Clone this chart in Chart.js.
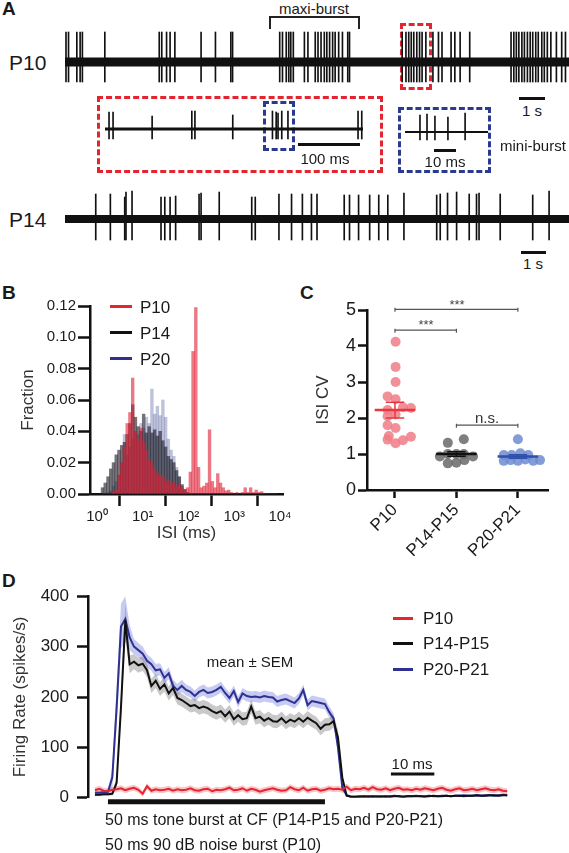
<!DOCTYPE html>
<html>
<head>
<meta charset="utf-8">
<script src="https://cdn.jsdelivr.net/npm/chart.js@4.4.0/dist/chart.umd.min.js"></script>
<style>
  body { margin: 0; background: #fff; }
  #fig { position: relative; width: 569px; height: 853px; overflow: hidden;
         font-family: "Liberation Sans", Arial, Helvetica, sans-serif; color: #1a1a1a; }
  #fig canvas { position: absolute; }
  .t { position: absolute; white-space: nowrap; line-height: 1; }
  .c { transform: translate(-50%, -50%); }
  .l { transform: translateY(-50%); }
  .panel { font-weight: bold; font-size: 19px; }
  .box { position: absolute; box-sizing: border-box; }
  .bar { position: absolute; }
</style>
</head>
<body>
<div id="fig">
  <!-- panel A -->
  <div class="t l panel" style="left:2px;top:8px">A</div>
  <div class="t c" style="left:314px;top:8px;font-size:15px">maxi-burst</div>
  <div class="box" style="left:269px;top:16px;width:91px;height:13px;border:2px solid #222;border-bottom:0"></div>
  <div class="box" style="left:400px;top:23px;width:32px;height:67px;border:3px dashed #e32530"></div>
  <div class="t l" style="left:9px;top:62px;font-size:21px">P10</div>
  <canvas id="p10Trace" width="504" height="70" style="left:65px;top:22px"></canvas>
  <div class="bar" style="left:519px;top:97px;width:26px;height:3px;background:#111"></div>
  <div class="t c" style="left:532px;top:110px;font-size:15px">1 s</div>

  <div class="box" style="left:97px;top:96px;width:286px;height:77px;border:3px dashed #e32530"></div>
  <div class="box" style="left:263px;top:101px;width:32px;height:50px;border:3px dashed #2b3990"></div>
  <canvas id="insetTrace" width="258" height="40" style="left:105px;top:104px"></canvas>
  <div class="bar" style="left:298px;top:143px;width:62px;height:3px;background:#111"></div>
  <div class="t c" style="left:325px;top:158px;font-size:15px">100 ms</div>

  <div class="box" style="left:398px;top:107px;width:93px;height:66px;border:3px dashed #2b3990"></div>
  <canvas id="miniTrace" width="83" height="40" style="left:405px;top:107px"></canvas>
  <div class="bar" style="left:434px;top:149px;width:22px;height:3px;background:#111"></div>
  <div class="t c" style="left:445px;top:161px;font-size:15px">10 ms</div>
  <div class="t l" style="left:500px;top:145px;font-size:15px">mini-burst</div>

  <div class="t l" style="left:9px;top:219px;font-size:21px">P14</div>
  <canvas id="p14Trace" width="504" height="70" style="left:65px;top:179px"></canvas>
  <div class="bar" style="left:521px;top:251px;width:25px;height:3px;background:#111"></div>
  <div class="t c" style="left:533px;top:263px;font-size:15px">1 s</div>

  <!-- panel B -->
  <div class="t l panel" style="left:2px;top:292px">B</div>
  <canvas id="isiHist" width="300" height="262" style="left:0;top:290px"></canvas>
  <div class="bar" style="left:110px;top:305px;width:22px;height:3px;background:#e4262f"></div>
  <div class="bar" style="left:110px;top:331px;width:22px;height:3px;background:#111"></div>
  <div class="bar" style="left:110px;top:357px;width:22px;height:3px;background:#2e3192"></div>
  <div class="t l" style="left:140px;top:307px;font-size:17px">P10</div>
  <div class="t l" style="left:140px;top:333px;font-size:17px">P14</div>
  <div class="t l" style="left:140px;top:359px;font-size:17px">P20</div>

  <!-- panel C -->
  <div class="t l panel" style="left:300px;top:292px">C</div>
  <canvas id="cvChart" width="279" height="270" style="left:290px;top:290px"></canvas>
  <div class="t c" style="left:457px;top:304px;font-size:13px;color:#444">***</div>
  <div class="t c" style="left:426px;top:324px;font-size:13px;color:#444">***</div>
  <div class="t c" style="left:487px;top:417px;font-size:15px;color:#333">n.s.</div>

  <!-- panel D -->
  <div class="t l panel" style="left:2px;top:580px">D</div>
  <canvas id="rateChart" width="569" height="238" style="left:0;top:578px"></canvas>
  <div class="bar" style="left:393px;top:617px;width:20px;height:3px;background:#e4262f"></div>
  <div class="bar" style="left:393px;top:642px;width:20px;height:3px;background:#111"></div>
  <div class="bar" style="left:393px;top:668px;width:20px;height:3px;background:#2e3192"></div>
  <div class="t l" style="left:423px;top:618px;font-size:17px">P10</div>
  <div class="t l" style="left:423px;top:643px;font-size:17px">P14-P15</div>
  <div class="t l" style="left:423px;top:669px;font-size:17px">P20-P21</div>
  <div class="t c" style="left:250px;top:661px;font-size:15px">mean ± SEM</div>
  <div class="t c" style="left:412px;top:763px;font-size:15px">10 ms</div>
  <div class="t l" style="left:105px;top:820px;font-size:16px">50 ms tone burst at CF (P14-P15 and P20-P21)</div>
  <div class="t l" style="left:105px;top:845px;font-size:16px">50 ms 90 dB noise burst (P10)</div>
</div>

<script>
// ---- A: spike trains (s / ms) ----
const p10SpikeTimes = [0.04, 0.14, 0.47, 0.60, 0.69, 1.58, 3.74, 3.84, 4.03, 4.17, 4.36, 5.40, 5.97,
  6.58, 6.65, 8.52, 8.63, 8.78, 8.88, 8.96, 9.06, 9.50, 9.64, 9.93, 10.04, 10.16, 10.29, 10.39,
  10.50, 10.62, 10.72, 10.86, 11.01, 11.22, 11.29, 13.38, 13.53, 13.64, 13.74, 13.84, 13.96,
  14.07, 14.17, 14.32, 14.60, 14.82, 14.96, 15.32, 15.47, 15.68, 16.06, 17.70, 17.81, 17.91,
  18.01, 18.13, 18.23, 18.35, 18.46, 18.56, 18.68, 18.78, 18.92, 19.02, 19.14, 19.28, 19.50,
  19.71, 19.86];
const p14SpikeTimes = [1.22, 1.80, 2.37, 2.42, 2.66, 3.81, 3.96, 4.17, 4.39, 5.32, 5.40, 6.12,
  7.41, 7.55, 8.49, 8.99, 9.42, 9.78, 10.0, 11.08, 11.29, 11.65, 12.09, 12.45, 12.81, 13.45,
  14.75, 14.89, 15.18, 15.54, 16.04, 16.33, 16.43, 17.27, 18.56, 19.21];
const p14SpikeUp = [25, 25, 22, 27, 28, 22, 22, 22, 23, 25, 26, 27,
  22, 22, 25, 25, 25, 25, 25, 24, 24, 24, 24, 24, 24, 26,
  24, 25, 26, 27, 25, 25, 26, 25, 24, 28];
const insetSpikeTimes = [6.5, 13, 76, 140, 145, 206, 270, 276, 279, 285, 295, 408, 414];
const insetSpikeUp = [17, 17, 13, 18, 18, 14, 18, 17, 16, 18, 18, 18, 18];
const miniSpikeTimes = [6.8, 10, 13.6, 19.5, 27.3];
const miniSpikeUp = [17, 18, 16, 15, 19];

// ---- B: ISI histogram, bins in log10(ms) ----
const isiBins = [0.12, 0.18, 0.24, 0.30, 0.36, 0.42, 0.48, 0.54, 0.60, 0.66, 0.72, 0.78, 0.84,
  0.90, 0.96, 1.02, 1.08, 1.14, 1.20, 1.26, 1.32, 1.38, 1.44, 1.50, 1.56, 1.62, 1.68, 1.74, 1.80,
  1.86, 1.92, 1.98, 2.04, 2.10, 2.16, 2.22, 2.28, 2.34, 2.40, 2.46, 2.52, 2.58, 2.64, 2.70, 2.76,
  2.82, 2.88, 2.94, 3.00, 3.06, 3.12, 3.18, 3.24, 3.30, 3.36, 3.42, 3.48, 3.54, 3.60, 3.66, 3.72,
  3.78, 3.84, 3.90];
const p10Frac = [0, 0, 0, 0, 0.001, 0.003, 0.012, 0.02,
  0.03, 0.045, 0.052, 0.074, 0.04, 0.035, 0.042, 0.033,
  0.028, 0.022, 0.02, 0.016, 0.013, 0.011, 0.012, 0.008,
  0.009, 0.006, 0.008, 0.005, 0.006, 0.004, 0.003, 0.004,
  0.014, 0.091, 0.119, 0.017, 0.004, 0.005, 0.007, 0.041,
  0.008, 0.004, 0.013, 0.007, 0.004, 0.002, 0.0025, 0.001,
  0, 0.001, 0, 0.001, 0.004, 0.001, 0.004, 0.001,
  0.0025, 0.001, 0.0015, 0.0005, 0, 0, 0, 0];
const p14Frac = [0.004, 0.007, 0.011, 0.016, 0.02, 0.025, 0.028, 0.031,
  0.033, 0.038, 0.045, 0.057, 0.049, 0.043, 0.04, 0.051,
  0.039, 0.043, 0.039, 0.041, 0.037, 0.04, 0.034, 0.03,
  0.024, 0.022, 0.02, 0.015, 0.011, 0.006, 0.003, 0.001,
  0, 0, 0, 0, 0, 0, 0, 0, 0, 0, 0, 0, 0, 0, 0, 0,
  0, 0, 0, 0, 0, 0, 0, 0, 0, 0, 0, 0, 0, 0, 0, 0];
const p20Frac = [0, 0, 0.001, 0.002, 0.005, 0.008, 0.012, 0.02,
  0.038, 0.025, 0.03, 0.035, 0.04, 0.038, 0.045, 0.042,
  0.049, 0.045, 0.067, 0.051, 0.056, 0.05, 0.06, 0.049,
  0.035, 0.028, 0.024, 0.017, 0.011, 0.005, 0.002, 0,
  0, 0, 0, 0, 0, 0, 0, 0, 0, 0, 0, 0, 0, 0, 0, 0,
  0, 0, 0, 0, 0, 0, 0, 0, 0, 0, 0, 0, 0, 0, 0, 0];
const isiTickExp = [0, 1, 2, 3, 4];
const isiTickLabels = ['10⁰', '10¹', '10²', '10³', '10⁴'];

// ---- C: ISI CV per cell ----
const cvGroups = ['P10', 'P14-P15', 'P20-P21'];
const p10Cv = [4.12, 3.42, 3.0, 2.6, 2.52, 2.3, 2.28, 2.22, 2.1, 2.05, 1.8, 1.72, 1.5, 1.48, 1.4, 1.38, 1.3];
const p10Jitter = [0.01, 0.01, 0.01, -0.12, 0.01, 0.13, 0.26, -0.12, 0.01, -0.12, -0.12, 0.01, -0.1, 0.26, -0.12, 0.13, 0.01];
const p14Cv = [1.41, 1.31, 1.0, 1.0, 1.0, 0.93, 0.93, 0.83, 0.76, 0.74];
const p14Jitter = [0.12, -0.14, -0.14, 0, 0.12, -0.27, 0.27, 0.13, 0, -0.14];
const p20Cv = [1.41, 0.97, 0.97, 1.02, 0.97, 0.81, 0.83, 0.81, 0.85, 0.81, 0.83];
const p20Jitter = [0, -0.23, -0.1, 0.04, 0.17, -0.23, -0.12, 0, 0.12, 0.25, 0.36];
const cvMeans = [2.22, 1.0, 0.93];
const cvSem = [0.22, 0.06, 0.05];

// ---- D: PSTH, 1 ms bins, t = 0 at stimulus onset ----
const rateTimes = [-3, -2, -1, 0, 1, 2, 3, 4, 5, 6, 7, 8, 9, 10, 11, 12, 13, 14, 15, 16, 17, 18, 19,
  20, 21, 22, 23, 24, 25, 26, 27, 28, 29, 30, 31, 32, 33, 34, 35, 36, 37, 38, 39, 40, 41, 42, 43,
  44, 45, 46, 47, 48, 49, 50, 51, 52, 53, 54, 55, 56, 57, 58, 59, 60, 61, 62, 63, 64, 65, 66, 67,
  68, 69, 70, 71, 72, 73, 74, 75, 76, 77, 78, 79, 80, 81, 82, 83, 84, 85, 86, 87, 88, 89, 90, 91, 92];
const p20Rate = [10, 10, 11, 12,
  40, 180, 340, 355, 318, 300, 293, 286, 272, 265,
  253, 255, 238, 247, 222, 214, 222, 214, 210, 202,
  210, 214, 208, 210, 214, 220, 208, 198, 212, 190,
  207, 202, 200, 201, 199, 202, 200, 199, 191, 194,
  196, 192, 188, 197, 214, 184, 192, 190, 188, 186,
  170, 157, 100, 20, 5, 2, 2, 3, 2, 3,
  2, 3, 3, 2, 3, 4, 3, 2, 3, 3,
  4, 3, 3, 4, 3, 3, 4, 4, 3, 4,
  4, 5, 4, 4, 5, 4, 5, 5, 4, 5, 6, 5];
const p14Rate = [6, 6, 7, 7,
  8, 30, 180, 352, 265, 270, 263, 266, 253, 222,
  232, 216, 225, 207, 218, 198, 194, 188, 182, 184,
  178, 181, 178, 172, 168, 172, 162, 171, 156, 164,
  156, 158, 181, 158, 161, 153, 158, 152, 151, 158,
  149, 155, 151, 158, 151, 159, 153, 148, 137, 145,
  146, 152, 120, 40, 4, 2, 2, 2, 3, 2,
  3, 2, 2, 3, 2, 3, 3, 2, 3, 3,
  3, 3, 2, 3, 4, 3, 3, 4, 3, 4,
  4, 3, 4, 4, 5, 4, 4, 5, 5, 4, 5, 5];
const p10Rate = [15, 18, 14, 13,
  16, 17, 19, 15, 18, 20, 16, 8, 23, 14,
  17, 15, 16, 18, 14, 17, 15, 16, 19, 15,
  14, 17, 18, 13, 16, 15, 17, 20, 15, 16,
  19, 14, 18, 16, 12, 15, 17, 19, 16, 14,
  15, 21, 17, 15, 20, 14, 17, 18, 14, 16,
  19, 17, 18, 16, 22, 15, 18, 17, 20, 16,
  21, 17, 16, 19, 15, 18, 20, 16, 17, 15,
  18, 16, 19, 17, 15, 18, 20, 16, 14, 17,
  19, 15, 16, 18, 15, 17, 19, 16, 15, 17, 14, 13];
const p20Sem = [4, 4, 4, 4,
  20, 40, 45, 45, 25, 15, 14, 14, 13, 13,
  13, 12, 12, 12, 12, 12, 12, 11, 11, 11,
  11, 11, 11, 11, 11, 11, 11, 11, 11, 11,
  11, 11, 11, 11, 11, 11, 11, 11, 11, 11,
  11, 11, 11, 11, 11, 11, 11, 11, 11, 11,
  11, 11, 15, 8, 3, 2, 2, 2, 2, 2,
  2, 2, 2, 2, 2, 2, 2, 2, 2, 2,
  2, 2, 2, 2, 2, 2, 2, 2, 2, 2,
  2, 2, 2, 2, 2, 2, 2, 2, 2, 2, 2, 2];
const p14Sem = [3, 3, 3, 3,
  3, 10, 25, 35, 18, 15, 15, 14, 14, 14,
  14, 14, 14, 14, 14, 13, 13, 13, 13, 13,
  13, 13, 13, 13, 13, 13, 13, 13, 13, 13,
  13, 13, 13, 13, 13, 13, 13, 13, 13, 13,
  13, 13, 13, 13, 13, 13, 13, 13, 13, 13,
  13, 13, 15, 8, 2, 2, 2, 2, 2, 2,
  2, 2, 2, 2, 2, 2, 2, 2, 2, 2,
  2, 2, 2, 2, 2, 2, 2, 2, 2, 2,
  2, 2, 2, 2, 2, 2, 2, 2, 2, 2, 2, 2];
const p10Sem = 6;
const stimulusMs = [0, 50];
const scaleBarMs = [65.2, 75.2];

// ---- shared setup ----
Chart.defaults.font.family = '"Liberation Sans", Arial, Helvetica, sans-serif';
Chart.defaults.color = '#1a1a1a';
Chart.defaults.animation = false;
Chart.defaults.responsive = false;
Chart.defaults.plugins.legend.display = false;
Chart.defaults.plugins.tooltip.enabled = false;

const INK = '#111';
const RED = '#e4262f';
const NAVY = '#2e3192';

function pick(v, i) { return Array.isArray(v) ? v[i] : v; }

// one trace: thick baseline + spikes as floating bars
function traceChart(id, times, up, down, baseWidth, xMax, yMin, yMax) {
  new Chart(document.getElementById(id), {
    type: 'bar',
    data: {
      datasets: [
        { type: 'line', data: [{ x: 0, y: 0 }, { x: xMax, y: 0 }],
          borderColor: INK, borderWidth: baseWidth, pointRadius: 0 },
        { data: times.map((t, i) => ({ x: t, y: [-pick(down, i), pick(up, i)] })),
          backgroundColor: INK, barThickness: 1 }
      ]
    },
    options: {
      layout: { padding: 0 },
      scales: {
        x: { type: 'linear', min: 0, max: xMax, offset: false, display: false },
        y: { min: yMin, max: yMax, display: false }
      }
    }
  });
}

traceChart('p10Trace', p10SpikeTimes, 30, 20, 9, 20, -30, 40);
traceChart('p14Trace', p14SpikeTimes, p14SpikeUp, 21, 8, 20, -30, 40);
traceChart('insetTrace', insetSpikeTimes, insetSpikeUp, 10, 3, 416, -15, 25);
traceChart('miniTrace', miniSpikeTimes, miniSpikeUp, 8, 2, 37.7, -15, 25);

function axisStyle(tickLen) {
  return {
    grid: { display: true, drawOnChartArea: false, drawTicks: true, tickLength: tickLen,
            tickWidth: 2.5, tickColor: INK },
    border: { display: true, color: INK, width: 2.5 }
  };
}

// ---- B ----
new Chart(document.getElementById('isiHist'), {
  type: 'bar',
  data: {
    datasets: [
      { data: isiBins.map((b, i) => ({ x: b, y: p10Frac[i] })), backgroundColor: 'rgba(222,30,50,0.6)', order: 0 },
      { data: isiBins.map((b, i) => ({ x: b, y: p14Frac[i] })), backgroundColor: 'rgba(30,30,40,0.62)', order: 1 },
      { data: isiBins.map((b, i) => ({ x: b, y: p20Frac[i] })), backgroundColor: 'rgba(70,80,150,0.35)', order: 2 }
    ]
  },
  options: {
    layout: { padding: { top: 16, right: 17, bottom: 0, left: 0 } },
    datasets: { bar: { grouped: false, barPercentage: 1, categoryPercentage: 1, borderWidth: 0 } },
    scales: {
      x: {
        type: 'linear', min: -0.153, max: 4.066, offset: false, ...axisStyle(12),
        afterBuildTicks: s => { s.ticks = isiTickExp.map(v => ({ value: v })); },
        afterFit: s => { s.height = 58; },
        ticks: { padding: 2, font: { size: 15 }, callback: v => isiTickLabels[isiTickExp.indexOf(v)] },
        title: { display: true, text: 'ISI (ms)', font: { size: 17 }, color: '#333', padding: { bottom: 8 } }
      },
      y: {
        min: 0, max: 0.12, ...axisStyle(12),
        afterFit: s => { s.width = 90; },
        ticks: { stepSize: 0.02, padding: 2, font: { size: 15 }, callback: v => v.toFixed(2) },
        title: { display: true, text: 'Fraction', font: { size: 17 }, color: '#333', padding: { top: 18 } }
      }
    }
  }
});

// ---- C ----
function dots(vals, jit, g) { return vals.map((v, i) => ({ x: g + jit[i], y: v })); }
function meanLine(g) { return [{ x: g - 0.33, y: cvMeans[g] }, { x: g + 0.33, y: cvMeans[g] }]; }
function semBar(g) {
  const m = cvMeans[g], s = cvSem[g];
  return [{ x: g - 0.15, y: m + s }, { x: g + 0.15, y: m + s }, { x: g, y: null },
          { x: g, y: m + s }, { x: g, y: m - s }, { x: g, y: null },
          { x: g - 0.15, y: m - s }, { x: g + 0.15, y: m - s }];
}
function bracket(g0, g1, y) {
  return [{ x: g0, y: y - 0.07 }, { x: g0, y: y + 0.04 }, { x: g0, y: y }, { x: g1, y: y },
          { x: g1, y: y + 0.04 }, { x: g1, y: y - 0.07 }];
}
const cvColors = ['#e8383f', INK, '#2f4fa8'];
const lineSet = (data, color, w) => ({ type: 'line', data, borderColor: color, borderWidth: w,
  pointRadius: 0, fill: false, spanGaps: false, clip: false, order: 0 });

new Chart(document.getElementById('cvChart'), {
  type: 'scatter',
  data: {
    datasets: [
      { data: dots(p10Cv, p10Jitter, 0), backgroundColor: 'rgba(240,125,135,0.85)', pointRadius: 5, borderWidth: 0, order: 2 },
      { data: dots(p14Cv, p14Jitter, 1), backgroundColor: 'rgba(105,105,105,0.85)', pointRadius: 5, borderWidth: 0, order: 2 },
      { data: dots(p20Cv, p20Jitter, 2), backgroundColor: 'rgba(110,140,210,0.85)', pointRadius: 5, borderWidth: 0, order: 2 },
      lineSet(meanLine(0), cvColors[0], 2.5), lineSet(meanLine(1), cvColors[1], 2.5), lineSet(meanLine(2), cvColors[2], 2.5),
      lineSet(semBar(0), cvColors[0], 1.5), lineSet(semBar(1), cvColors[1], 1.5), lineSet(semBar(2), cvColors[2], 1.5),
      lineSet(bracket(0, 2, 5.02), '#555', 1.2), lineSet(bracket(0, 1, 4.44), '#555', 1.2), lineSet(bracket(1, 2, 1.8), '#555', 1.2)
    ]
  },
  options: {
    layout: { padding: { top: 20, right: 21, bottom: 0, left: 0 } },
    scales: {
      x: {
        type: 'linear', min: -0.455, max: 2.49, ...axisStyle(8),
        afterBuildTicks: s => { s.ticks = cvGroups.map((g, i) => ({ value: i })); },
        afterFit: s => { s.height = 70; },
        ticks: { autoSkip: false, minRotation: 45, maxRotation: 45, padding: 2, font: { size: 17 },
                 callback: v => cvGroups[v] }
      },
      y: {
        min: 0, max: 5, ...axisStyle(9),
        afterFit: s => { s.width = 77; },
        ticks: { stepSize: 1, padding: 2, font: { size: 18 } },
        title: { display: true, text: 'ISI CV', font: { size: 17 }, color: '#333', padding: { top: 23 } }
      }
    }
  }
});

// ---- D ----
const series = (vals) => rateTimes.map((t, i) => ({ x: t, y: vals[i] }));
const shift = (vals, sem, sign) => vals.map((v, i) => v + sign * pick(sem, i));
const band = (vals, sem, color, order) => [
  { data: series(shift(vals, sem, 1)), fill: '+1', backgroundColor: color, borderWidth: 0, pointRadius: 0, order },
  { data: series(shift(vals, sem, -1)), fill: false, borderWidth: 0, pointRadius: 0, order }
];
const trace = (vals, color, order) => ({ data: series(vals), borderColor: color, borderWidth: 2,
  pointRadius: 0, fill: false, order });

new Chart(document.getElementById('rateChart'), {
  type: 'line',
  data: {
    datasets: [
      ...band(p20Rate, p20Sem, 'rgba(95,105,215,0.35)', 9),
      ...band(p14Rate, p14Sem, 'rgba(120,120,120,0.4)', 8),
      ...band(p10Rate, p10Sem, 'rgba(240,90,100,0.35)', 7),
      trace(p20Rate, NAVY, 3),
      trace(p14Rate, INK, 2),
      trace(p10Rate, RED, 1),
      { data: stimulusMs.map(t => ({ x: t, y: -8 })), borderColor: INK, borderWidth: 5, pointRadius: 0, clip: false, order: 0 },
      { data: scaleBarMs.map(t => ({ x: t, y: 47 })), borderColor: INK, borderWidth: 3, pointRadius: 0, clip: false, order: 0 }
    ]
  },
  options: {
    layout: { padding: { top: 0, right: 57, bottom: 0, left: 0 } },
    scales: {
      x: { type: 'linear', min: -4.6, max: 93.1, display: false },
      y: {
        min: 0, max: 400, ...axisStyle(11),
        afterFit: s => { s.width = 88; },
        ticks: { stepSize: 100, padding: 8, font: { size: 17 } },
        title: { display: true, text: 'Firing Rate (spikes/s)', font: { size: 17 }, color: '#333', padding: { top: 10 } }
      }
    }
  }
});
</script>
</body>
</html>
